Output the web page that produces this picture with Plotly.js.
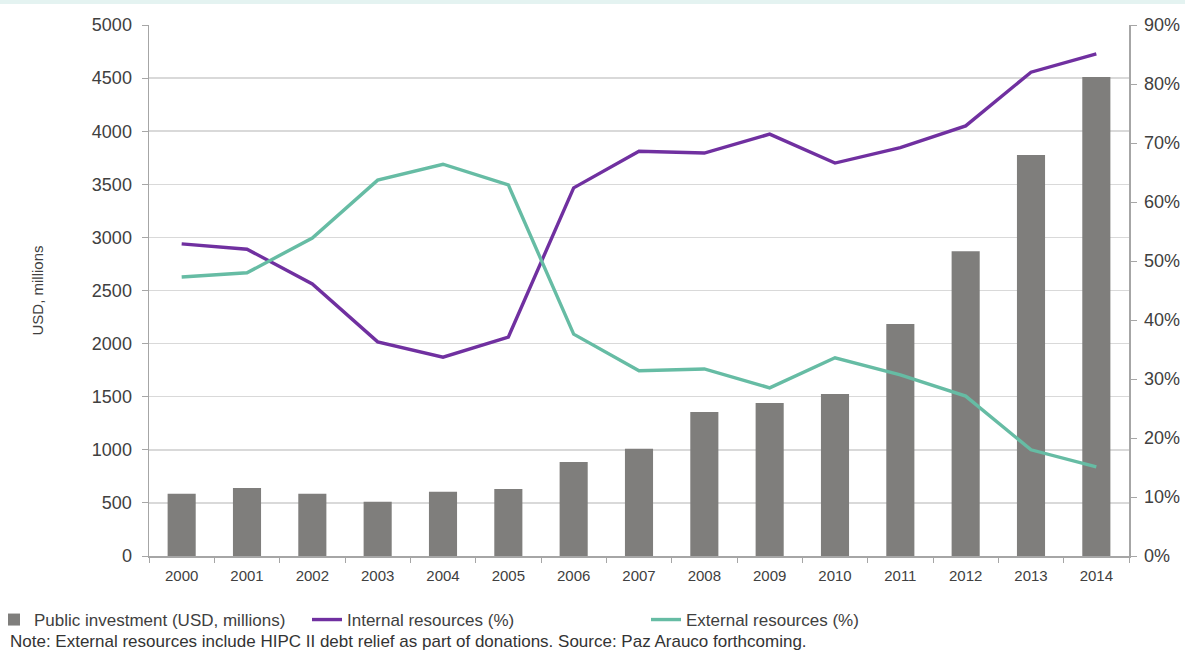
<!DOCTYPE html>
<html>
<head>
<meta charset="utf-8">
<script src="https://cdn.plot.ly/plotly-3.0.1.min.js"></script>
<style>
html,body{margin:0;padding:0;background:#fff;}
#band{position:absolute;left:0;top:0;width:1185px;height:4px;background:#e4f3f1;z-index:10;}
#chart{width:1185px;height:650px;}
</style>
</head>
<body>
<div id="band"></div>
<div id="chart"></div>
<script>
var years = ["2000","2001","2002","2003","2004","2005","2006","2007","2008","2009","2010","2011","2012","2013","2014"];
var publicInvestment = [585, 640, 585, 510, 605, 630, 885, 1010, 1355, 1440, 1525, 2185, 2870, 3775, 4510];
var internalPct = [52.9, 52.0, 46.1, 36.3, 33.7, 37.1, 62.4, 68.6, 68.3, 71.5, 66.6, 69.2, 72.9, 82.0, 85.1];
var externalPct = [47.3, 48.0, 53.9, 63.7, 66.4, 62.9, 37.6, 31.4, 31.7, 28.5, 33.6, 30.7, 27.1, 18.0, 15.1];
var leftTicks = [0,500,1000,1500,2000,2500,3000,3500,4000,4500,5000];
var rightTicks = [0,10,20,30,40,50,60,70,80,90];
var rightTickText = rightTicks.map(function(v){return v+"%";});

var font = "Liberation Sans, Arial, sans-serif";
var PW = 980, PH = 531; // plot area size in px
function px2x(px){ return (px - 149) / PW; }
function px2y(py){ return (556 - py) / PH; }

var traces = [
  {type:"bar", x:years, y:publicInvestment, name:"Public investment (USD, millions)",
   marker:{color:"#7f7e7c"}, width:0.43, yaxis:"y", legend:"legend"},
  {type:"scatter", mode:"lines", x:years, y:internalPct, name:"Internal resources (%)",
   line:{color:"#7030a0", width:3.4}, yaxis:"y2", legend:"legend2"},
  {type:"scatter", mode:"lines", x:years, y:externalPct, name:"External resources (%)",
   line:{color:"#66bca4", width:3.4}, yaxis:"y2", legend:"legend3"}
];

function legendAt(px){
  return {orientation:"h", x:px2x(px), xanchor:"left", y:px2y(620), yanchor:"middle",
          font:{size:17, color:"#404040"}, itemwidth:30, bgcolor:"rgba(0,0,0,0)"};
}

var layout = {
  width:1185, height:650,
  margin:{l:149, r:56, t:25, b:94, autoexpand:false},
  paper_bgcolor:"#fff", plot_bgcolor:"#fff",
  font:{family:font, color:"#404040", size:15},
  showlegend:true,
  legend:legendAt(-6),
  legend2:legendAt(307),
  legend3:legendAt(646),
  xaxis:{type:"category", tickson:"boundaries", ticks:"outside", ticklen:5, tickcolor:"#a6a6a6",
         showline:true, linecolor:"#a6a6a6", linewidth:1.5, showgrid:false,
         tickfont:{size:15, color:"#404040"}, ticklabelstandoff:5, range:[-0.5,14.5]},
  yaxis:{range:[0,5000], tickvals:leftTicks, ticks:"outside", ticklen:6, tickcolor:"#a6a6a6",
         showline:true, linecolor:"#a6a6a6", linewidth:1.5, gridcolor:"#d9d9d9", gridwidth:1.5,
         zeroline:false, tickfont:{size:18, color:"#404040"}, ticklabelstandoff:6,
         title:{text:"USD, millions", font:{size:15, color:"#404040"}, standoff:44}},
  yaxis2:{range:[0,90], overlaying:"y", side:"right", tickvals:rightTicks, ticktext:rightTickText,
          ticks:"outside", ticklen:6, tickcolor:"#a6a6a6", showline:true, linecolor:"#a6a6a6",
          linewidth:1.5, showgrid:false, zeroline:false, tickfont:{size:18, color:"#404040"},
          ticklabelstandoff:4},
  annotations:[
    {text:"Note: External resources include HIPC II debt relief as part of donations. Source: Paz Arauco forthcoming.",
     xref:"paper", yref:"paper", x:px2x(8), y:px2y(641), xanchor:"left", yanchor:"middle",
     showarrow:false, font:{size:17, color:"#333333"}}
  ]
};

Plotly.newPlot("chart", traces, layout, {displayModeBar:false, staticPlot:true});
</script>
</body>
</html>
